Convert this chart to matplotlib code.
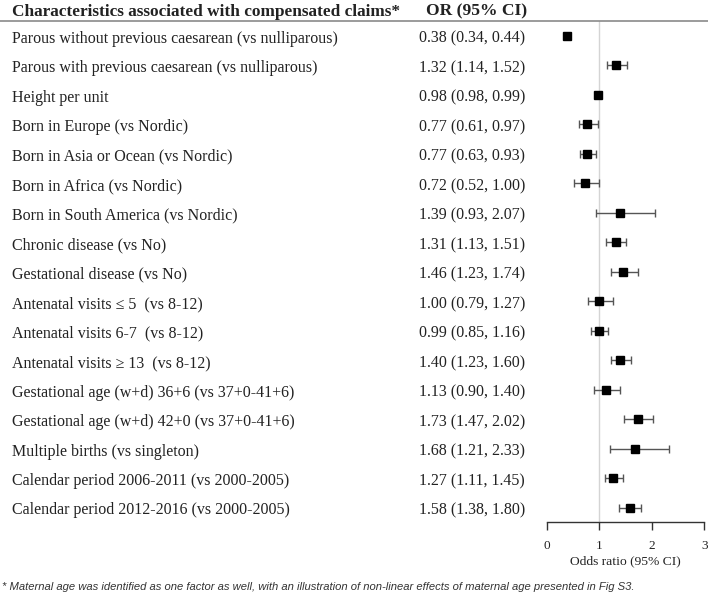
import matplotlib
matplotlib.use("Agg")
import matplotlib.pyplot as plt
from matplotlib.transforms import blended_transform_factory
from matplotlib.lines import Line2D

labels = [
    "Parous without previous caesarean (vs nulliparous)",
    "Parous with previous caesarean (vs nulliparous)",
    "Height per unit",
    "Born in Europe (vs Nordic)",
    "Born in Asia or Ocean (vs Nordic)",
    "Born in Africa (vs Nordic)",
    "Born in South America (vs Nordic)",
    "Chronic disease (vs No)",
    "Gestational disease (vs No)",
    "Antenatal visits \u2264 5  (vs 8-12)",
    "Antenatal visits 6-7  (vs 8-12)",
    "Antenatal visits \u2265 13  (vs 8-12)",
    "Gestational age (w+d) 36+6 (vs 37+0-41+6)",
    "Gestational age (w+d) 42+0 (vs 37+0-41+6)",
    "Multiple births (vs singleton)",
    "Calendar period 2006-2011 (vs 2000-2005)",
    "Calendar period 2012-2016 (vs 2000-2005)",
]
or_vals = [0.38, 1.32, 0.98, 0.77, 0.77, 0.72, 1.39, 1.31, 1.46, 1.00, 0.99, 1.40, 1.13, 1.73, 1.68, 1.27, 1.58]
ci_low = [0.34, 1.14, 0.98, 0.61, 0.63, 0.52, 0.93, 1.13, 1.23, 0.79, 0.85, 1.23, 0.90, 1.47, 1.21, 1.11, 1.38]
ci_high = [0.44, 1.52, 0.99, 0.97, 0.93, 1.00, 2.07, 1.51, 1.74, 1.27, 1.16, 1.60, 1.40, 2.02, 2.33, 1.45, 1.80]
x_ticks = [0, 1, 2, 3]

W, H = 708, 602
fig = plt.figure(figsize=(W / 100, H / 100), dpi=100)

ax_left, ax_right = 546.7, 704.3
ax_top, ax_bottom = 21.0, 522.3
ax = fig.add_axes([ax_left / W, 1 - ax_bottom / H, (ax_right - ax_left) / W, (ax_bottom - ax_top) / H])
ax.set_xlim(0, 3)
ax.set_ylim(len(labels) - 0.5, -0.5)

serif = "Liberation Serif"
txtcol = "#222222"

ys = list(range(len(labels)))
ax.axvline(1, color="#d4d4d4", lw=1, zorder=0)
for i in ys:
    if ci_high[i] - ci_low[i] > 0.02:
        ax.errorbar(or_vals[i], i, xerr=[[or_vals[i] - ci_low[i]], [ci_high[i] - or_vals[i]]],
                    fmt="none", ecolor="#555555", elinewidth=1, capsize=3, capthick=1, zorder=2)
ax.plot(or_vals, ys, "s", color="black", markersize=5.3, zorder=3, linestyle="none")

for s in ["left", "right", "top"]:
    ax.spines[s].set_visible(False)
ax.spines["bottom"].set_color("#333333")
ax.spines["bottom"].set_linewidth(1)
ax.set_yticks([])
ax.set_xticks(x_ticks)
ax.set_xticklabels([str(t) for t in x_ticks], fontfamily=serif, fontsize=9.5, color=txtcol)
ax.tick_params(axis="x", direction="out", length=6, width=1, color="#333333", pad=7)
ax.set_xlabel("Odds ratio (95% CI)", fontfamily=serif, fontsize=9.7, color=txtcol, labelpad=2)

tr = blended_transform_factory(fig.transFigure, ax.transData)
for i, lab in enumerate(labels):
    ax.text(12 / W, i + 0.235, lab, transform=tr, ha="left", va="baseline", fontfamily=serif,
            fontsize=11.5, color=txtcol, clip_on=False)
    ax.text(419 / W, i + 0.235, f"{or_vals[i]:.2f} ({ci_low[i]:.2f}, {ci_high[i]:.2f})", transform=tr,
            ha="left", va="baseline", fontfamily=serif, fontsize=11.5, color=txtcol, clip_on=False)

fig.text(12 / W, 1 - 15.5 / H, "Characteristics associated with compensated claims*", ha="left", va="baseline",
         fontfamily=serif, fontweight="bold", fontsize=12.4, color=txtcol)
fig.text(426 / W, 1 - 15.5 / H, "OR (95% CI)", ha="left", va="baseline",
         fontfamily=serif, fontweight="bold", fontsize=12.6, color=txtcol)

fig.add_artist(Line2D([0, 1], [1 - ax_top / H, 1 - ax_top / H], transform=fig.transFigure,
                      color="#8a8a8a", lw=1.2))

fig.text(2 / W, 1 - 587 / H,
         "* Maternal age was identified as one factor as well, with an illustration of non-linear effects of maternal age presented in Fig S3.",
         ha="left", va="center", fontfamily="Liberation Sans", fontstyle="italic", fontsize=8.1, color="#333333")

fig.savefig("out.png", dpi=100)
